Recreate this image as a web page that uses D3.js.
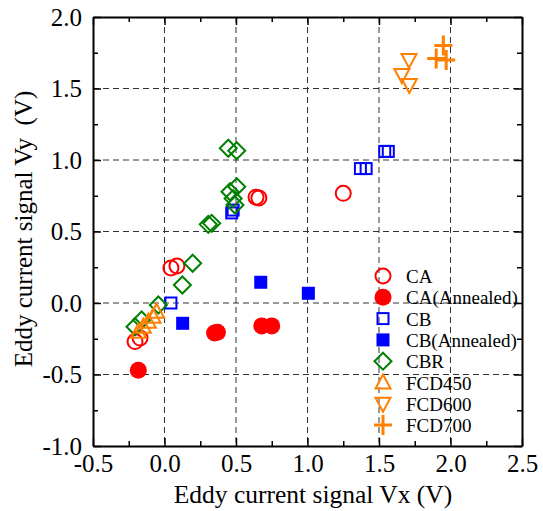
<!DOCTYPE html>
<html>
<head>
<meta charset="utf-8">
<script src="https://cdn.jsdelivr.net/npm/d3@7"></script>
<style>
  body { margin: 0; background: #fff; }
  svg text { fill: #000; }
</style>
</head>
<body>
<svg id="chart" width="543" height="511"></svg>
<script>
// data (Vx, Vy)
const caX = [0.045, 0.087, -0.206, -0.171, 0.64, 0.66, 1.25];
const caY = [0.245, 0.259, -0.27, -0.245, 0.74, 0.735, 0.767];
const caAnnX = [-0.183, 0.35, 0.37, 0.68, 0.75];
const caAnnY = [-0.47, -0.21, -0.205, -0.16, -0.16];
const cbX = [0.045, 0.47, 0.48, 1.37, 1.41, 1.54, 1.565];
const cbY = [0.0, 0.63, 0.65, 0.94, 0.94, 1.06, 1.06];
const cbAnnX = [0.127, 0.673, 1.006];
const cbAnnY = [-0.142, 0.145, 0.068];
const cbrX = [0.197, 0.125, -0.043, -0.16, -0.206, 0.446, 0.505, 0.458, 0.505, 0.48, 0.493, 0.306, 0.33];
const cbrY = [0.278, 0.126, -0.014, -0.119, -0.166, 1.082, 1.065, 0.778, 0.813, 0.73, 0.685, 0.55, 0.557];
const fcd450X = [-0.055, -0.08, -0.113, -0.148, -0.183];
const fcd450Y = [-0.061, -0.096, -0.131, -0.166, -0.201];
const fcd600X = [1.71, 1.66, 1.712];
const fcd600Y = [1.70, 1.594, 1.524];
const fcd700X = [1.95, 1.90, 1.97];
const fcd700Y = [1.80, 1.71, 1.70];

const xTicks = [-0.5, 0.0, 0.5, 1.0, 1.5, 2.0, 2.5];
const yTicks = [-1.0, -0.5, 0.0, 0.5, 1.0, 1.5, 2.0];
const legendNames = ["CA", "CA(Annealed)", "CB", "CB(Annealed)", "CBR", "FCD450", "FCD600", "FCD700"];

const series = [
  { name: legendNames[0], xs: caX, ys: caY, shape: "circle", color: "#ff0000", fill: false },
  { name: legendNames[1], xs: caAnnX, ys: caAnnY, shape: "circle", color: "#ff0000", fill: true },
  { name: legendNames[2], xs: cbX, ys: cbY, shape: "square", color: "#0000ff", fill: false },
  { name: legendNames[3], xs: cbAnnX, ys: cbAnnY, shape: "square", color: "#0000ff", fill: true },
  { name: legendNames[4], xs: cbrX, ys: cbrY, shape: "diamond", color: "#008000", fill: false },
  { name: legendNames[5], xs: fcd450X, ys: fcd450Y, shape: "up", color: "#ff8000", fill: false },
  { name: legendNames[6], xs: fcd600X, ys: fcd600Y, shape: "down", color: "#ff8000", fill: false },
  { name: legendNames[7], xs: fcd700X, ys: fcd700Y, shape: "plus", color: "#ff8000", fill: false }
];

const serif = "'Liberation Serif', 'Times New Roman', serif";
const plotLeft = 93, plotRight = 522, plotTop = 17, plotBottom = 446;
const x = d3.scaleLinear().domain([-0.5, 2.5]).range([plotLeft, plotRight]);
const y = d3.scaleLinear().domain([-1.0, 2.0]).range([plotBottom, plotTop]);
const fmt = d => d3.format(".1f")(d).replace("−", "-");

const svg = d3.select("#chart");

// dashed grid
const grid = svg.append("g").attr("stroke", "#333").attr("stroke-width", 1).attr("stroke-dasharray", "6,4");
grid.selectAll(".gx").data(xTicks.slice(1, -1)).enter().append("line")
  .attr("x1", d => x(d)).attr("x2", d => x(d)).attr("y1", plotTop).attr("y2", plotBottom);
grid.selectAll(".gy").data(yTicks.slice(1, -1)).enter().append("line")
  .attr("y1", d => y(d)).attr("y2", d => y(d)).attr("x1", plotLeft).attr("x2", plotRight);

// axes with inward ticks on all four sides
const minorX = d3.range(-0.25, 2.5, 0.5);
const minorY = d3.range(-0.75, 2.0, 0.5);
function addAxis(axis, tr, ticks, minor, showLabels, pad) {
  const g = svg.append("g").attr("transform", tr);
  g.call(axis.tickValues(ticks).tickSizeInner(-8).tickSizeOuter(0)
    .tickFormat(showLabels ? fmt : () => "").tickPadding(pad));
  g.attr("font-family", serif).attr("font-size", 25);
  g.selectAll(".tick line").attr("stroke-width", 1.5);
  const m = svg.append("g").attr("transform", tr);
  m.call(axis.tickValues(minor).tickSizeInner(-5).tickSizeOuter(0).tickFormat(() => ""));
  m.select(".domain").remove();
  m.selectAll(".tick line").attr("stroke-width", 1.5);
  g.select(".domain").attr("stroke-width", 2);
  return g;
}
addAxis(d3.axisBottom(x), `translate(0,${plotBottom})`, xTicks, minorX, true, 8);
addAxis(d3.axisTop(x), `translate(0,${plotTop})`, xTicks, minorX, false, 8);
addAxis(d3.axisLeft(y), `translate(${plotLeft},0)`, yTicks, minorY, true, 11);
addAxis(d3.axisRight(y), `translate(${plotRight},0)`, yTicks, minorY, false, 8);

// axis titles
svg.append("text").attr("x", 313).attr("y", 503)
  .attr("text-anchor", "middle").attr("font-family", serif).attr("font-size", 25.5)
  .text("Eddy current signal Vx (V)");
svg.append("text").attr("transform", "translate(32,229) rotate(-90)")
  .attr("text-anchor", "middle").attr("font-family", serif).attr("font-size", 25)
  .style("white-space", "pre")
  .text("Eddy current signal Vy  (V)");

function drawMarker(g, shape, color, fill, cx, cy) {
  const sw = 2;
  if (shape === "circle") {
    g.append("circle").attr("cx", cx).attr("cy", cy).attr("r", fill ? 8.5 : 7.5)
      .attr("fill", fill ? color : "none").attr("stroke", fill ? "none" : color).attr("stroke-width", sw);
  } else if (shape === "square") {
    const s = fill ? 13 : 11;
    g.append("rect").attr("x", cx - s / 2).attr("y", cy - s / 2).attr("width", s).attr("height", s)
      .attr("fill", fill ? color : "none").attr("stroke", fill ? "none" : color).attr("stroke-width", sw);
  } else if (shape === "diamond") {
    const r = 8.5;
    g.append("path").attr("d", `M${cx},${cy - r}L${cx + r},${cy}L${cx},${cy + r}L${cx - r},${cy}Z`)
      .attr("fill", "none").attr("stroke", color).attr("stroke-width", sw);
  } else if (shape === "up") {
    g.append("path").attr("d", `M${cx},${cy - 8}L${cx + 7.5},${cy + 6}L${cx - 7.5},${cy + 6}Z`)
      .attr("fill", "none").attr("stroke", color).attr("stroke-width", sw);
  } else if (shape === "down") {
    g.append("path").attr("d", `M${cx},${cy + 8}L${cx + 7.5},${cy - 6}L${cx - 7.5},${cy - 6}Z`)
      .attr("fill", "none").attr("stroke", color).attr("stroke-width", sw);
  } else if (shape === "plus") {
    g.append("path").attr("d", `M${cx - 9},${cy}H${cx + 9}M${cx},${cy - 10}V${cy + 10}`)
      .attr("fill", "none").attr("stroke", color).attr("stroke-width", 3);
  }
}

// legend
const legend = svg.append("g").attr("font-family", serif).attr("font-size", 19);
series.forEach((s, i) => {
  const ly = 276 + i * 21.3;
  drawMarker(legend, s.shape, s.color, s.fill, 383, ly);
  legend.append("text").attr("x", 406).attr("y", ly + 7).text(s.name);
});

// points
const pts = svg.append("g");
series.forEach(s => {
  s.xs.forEach((vx, i) => drawMarker(pts, s.shape, s.color, s.fill, x(vx), y(s.ys[i])));
});
</script>
</body>
</html>
